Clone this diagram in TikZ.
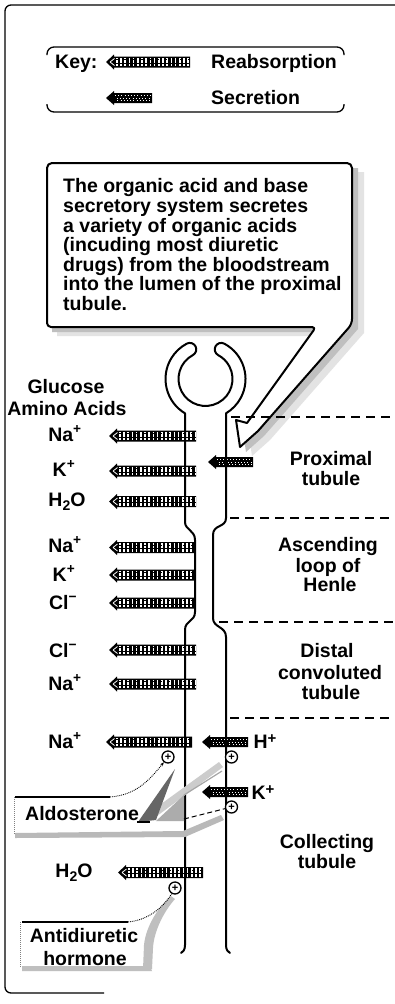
\documentclass[tikz,border=0pt]{standalone}
\usepackage{fontspec}
\setmainfont{Liberation Sans}
\usetikzlibrary{arrows.meta}

% reabsorption arrow: tip x, tail x, centre y
\newcommand{\reabarrow}[3]{%
  \fill (#1,#3) -- (#1+8,#3-7.5) -- (#1+8,#3-5.5) -- (#2,#3-5.5) -- (#2,#3+5.5)
        -- (#1+8,#3+5.5) -- (#1+8,#3+7.5) -- cycle;
  \draw[white, line width=8.4pt, dash pattern=on 1.6pt off 2.6pt] (#1+10,#3) -- (#2-1,#3);
  \draw[black, line width=0.9pt] (#1+10,#3+1.3) -- (#2,#3+1.3);
  \draw[black, line width=0.7pt, dash pattern=on 3pt off 5pt] (#1+10,#3-2.6) -- (#2,#3-2.6);
  \draw[white, line width=0.8pt] (#1+4,#3) -- (#1+8.5,#3-3.5) (#1+4,#3) -- (#1+8.5,#3+3.5);
}
% secretion arrow: tip x, tail x, centre y
\newcommand{\secrarrow}[3]{%
  \fill (#1,#3) -- (#1+8,#3-7) -- (#1+8,#3-5) -- (#2,#3-5) -- (#2,#3+5)
        -- (#1+8,#3+5) -- (#1+8,#3+7) -- cycle;
  \draw[white, line width=0.8pt, dash pattern=on 0.8pt off 2.4pt] (#1+9,#3-2.6) -- (#2-1,#3-2.6);
  \draw[white, line width=0.8pt, dash pattern=on 0.8pt off 2.4pt, dash phase=1.6pt] (#1+9,#3) -- (#2-1,#3);
  \draw[white, line width=0.8pt, dash pattern=on 0.8pt off 2.4pt, dash phase=0.8pt] (#1+9,#3+2.6) -- (#2-1,#3+2.6);
}

\begin{document}
\begin{tikzpicture}[x=1pt,y=-1pt,
  lbl/.style={font=\fontsize{19.5}{19.6}\selectfont\bfseries, inner sep=0pt, anchor=base},
  wall/.style={line width=2pt, line join=round, line cap=round},
  sect/.style={line width=2.3pt, dash pattern=on 9pt off 6pt},
  plus/.style={circle, draw, line width=1.3pt, fill=white, inner sep=0pt,
               minimum size=12pt, font=\fontsize{11}{11}\selectfont\bfseries},
  frame/.style={line width=1.3pt}]
\useasboundingbox (0,0) rectangle (395,1004);
\fill[white] (0,0) rectangle (395,1004);

% outer frame
\draw[frame, rounded corners=6] (395,5) -- (5,5) -- (5,993) -- (104,993);

% key
\draw[frame, rounded corners=7] (47,55) -- (47,47) -- (344,47) -- (344,55);
\draw[frame, rounded corners=7] (47,104) -- (47,112) -- (344,112) -- (344,104);
\node[lbl, anchor=base west] (key) at (55,68.5) {Key:};
\reabarrow{106}{190}{62}
\secrarrow{106}{152}{98}
\node[lbl, anchor=base west] (kreab) at (211,68.5) {Reabsorption};
\node[lbl, anchor=base west] (ksecr) at (211,104.5) {Secretion};

% callout with pointer: two shadow layers, then the bubble
\fill[gray!22] (57,336) -- (57,172) -- (364,172) -- (364,333) -- (270,440) -- (252,456)
  -- (248,429) -- (259,432) -- (328,336) -- cycle;
\fill[gray!50] (52,332) -- (52,168) -- (358,168) -- (358,329) -- (264,436) -- (246,452)
  -- (242,425) -- (253,428) -- (322,332) -- cycle;
\draw[line width=2pt, fill=white, line join=round]
  [rounded corners=5] (47,327) -- (47,163) -- (352,163) -- (352,324)
  [sharp corners] -- (258,431) -- (240,447) -- (236,420) -- (247,423)
  [rounded corners=4] -- (316,327) -- cycle;
\node[lbl, anchor=north west, align=left] (note) at (63,178.6)
  {The organic acid and base\\secretory system secretes\\a variety of organic acids\\(incuding most diuretic\\drugs) from the bloodstream\\into the lumen of the proximal\\tubule.};

% reabsorption arrows on the left
\reabarrow{109}{196}{436}
\reabarrow{109}{196}{471}
\reabarrow{109}{196}{501.5}
\reabarrow{109}{194}{547.5}
\reabarrow{109}{194}{575}
\reabarrow{109}{194}{603}
\reabarrow{109}{196}{650}
\reabarrow{109}{196}{684}
\reabarrow{106}{192}{742}
\reabarrow{118}{203}{872.5}

% secretion arrows
\secrarrow{208}{253}{462}
\secrarrow{202}{248}{742}
\secrarrow{202}{248}{792}

% tubule walls with the capsule at the top
\draw[wall] (181,953) .. controls (183,952) and (185,950) .. (185,945)
  -- (185,630) .. controls (185,620) and (195,622) .. (195,612)
  -- (195,540) .. controls (195,530) and (185,530) .. (185,522)
  -- (185,413.3)
  arc[start angle=120.85, end angle=242, radius=40]
  arc[start angle=242, end angle=422, radius=6.5]
  arc[start angle=242, end angle=-62, radius=27]
  arc[start angle=118, end angle=298, radius=6.5]
  arc[start angle=298, end angle=419.15, radius=40]
  -- (226,518) .. controls (226,528) and (213,524) .. (213,535)
  -- (213,618) .. controls (213,628) and (226,626) .. (226,637)
  -- (226,945) .. controls (226,950) and (228,952) .. (230,953);

% segment boundaries
\draw[sect] (231,417) -- (395,417);
\draw[sect] (230,518) -- (395,518);
\draw[sect] (219,622) -- (395,622);
\draw[sect] (230,718) -- (395,718);

% left labels
\node[lbl] (glu) at (66,393) {Glucose};
\node[lbl] (amino) at (67,415) {Amino Acids};
\node[lbl] (na1) at (65,441.5) {Na\textsuperscript{+}};
\node[lbl] (k1) at (64,476.5) {K\textsuperscript{+}};
\node[lbl] (w1) at (67,506) {H\raisebox{-4pt}{\fontsize{14}{14}\selectfont 2}O};
\node[lbl] (na2) at (65,552.5) {Na\textsuperscript{+}};
\node[lbl] (k2) at (64,581) {K\textsuperscript{+}};
\node[lbl] (cl1) at (63,609) {Cl\textsuperscript{−}};
\node[lbl] (cl2) at (63,657) {Cl\textsuperscript{−}};
\node[lbl] (na3) at (65,690) {Na\textsuperscript{+}};
\node[lbl] (na4) at (65,748) {Na\textsuperscript{+}};
\node[lbl] (w2) at (74,877) {H\raisebox{-4pt}{\fontsize{14}{14}\selectfont 2}O};

% right-hand labels
\node[lbl] (hp) at (265,748.5) {H\raisebox{5pt}{\fontsize{15}{15}\selectfont +}};
\node[lbl] (kp) at (263,799) {K\raisebox{5pt}{\fontsize{15}{15}\selectfont +}};
\node[lbl] (prox1) at (331,465) {Proximal};
\node[lbl] (prox2) at (331,485) {tubule};
\node[lbl] (asc1) at (328,551) {Ascending};
\node[lbl] (asc2) at (328,572) {loop of};
\node[lbl] (asc3) at (330,591) {Henle};
\node[lbl] (dis1) at (327,657) {Distal};
\node[lbl] (dis2) at (330,679) {convoluted};
\node[lbl] (dis3) at (331,699) {tubule};
\node[lbl] (col1) at (327,848) {Collecting};
\node[lbl] (col2) at (327,868) {tubule};

% aldosterone
\fill[gray!55] (15,833) -- (183,831) -- (221,815) -- (224,820) -- (185,837) -- (15,838) -- cycle;
\draw[gray, densely dotted, line width=1pt] (14,797) -- (14,834);
\draw[frame] (15,797) -- (110,797);
\coordinate (aldtop) at (110,797);
\node[lbl, anchor=base west] (ald) at (25,820) {Aldosterone};
\fill[gray!40] (150,812) -- (219,762) -- (223,767) -- (157,816) -- cycle;
\fill[gray!65] (156,821) -- (184,795) -- (184,821) -- cycle;
\draw[gray!70, line width=1.2pt] (184,795) -- (222,771);
\fill[gray!80!black] (138,822) -- (175,769) -- (156,820) -- cycle;
\draw[line width=1.3pt] (137,822) -- (150,822);

% antidiuretic hormone
\fill[gray!50] (22,966) -- (150,966) -- (152,971) -- (22,971) -- cycle;
\fill[gray!50] (143,969) -- (144,945) .. controls (146,925) and (160,905) .. (171,896)
  -- (175,899) .. controls (165,910) and (154,930) .. (153,948) -- (152,969) -- cycle;
\draw[gray, densely dotted, line width=1pt] (20,922) -- (20,968);
\draw[frame] (22,922) -- (128,922);
\coordinate (adhtop) at (128,922);
\node[lbl] (adh1) at (84,942) {Antidiuretic};
\node[lbl] (adh2) at (85,965) {hormone};

% stimulation marks
\node[plus] (pNa) at (168,757) {+};
\node[plus] (pH) at (231.5,757) {+};
\node[plus] (pK) at (231.5,807) {+};
\node[plus] (pADH) at (175,888) {+};

% hormone actions
\draw[densely dotted, line width=0.9pt, -{Stealth[length=4pt]}] (aldtop) .. controls (135,795) and (148,782) .. (pNa);
\draw[line width=1pt, dash pattern=on 5pt off 3pt] (184,819) -- (pK);
\draw[densely dotted, line width=0.9pt] (adhtop) .. controls (150,920) and (165,905) .. (pADH);
\end{tikzpicture}
\end{document}
